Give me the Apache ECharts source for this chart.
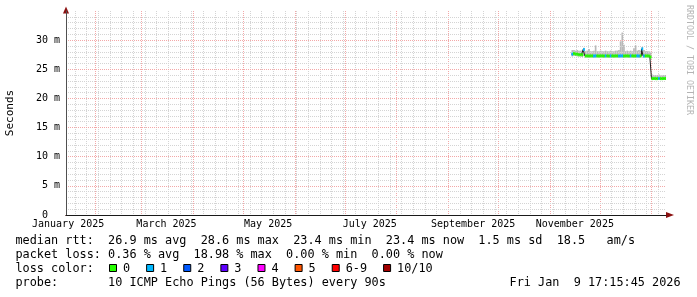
<!DOCTYPE html>
<html>
<head>
<meta charset="utf-8">
<script src="https://cdn.jsdelivr.net/npm/echarts@6/dist/echarts.min.js"></script>
<style>html,body{margin:0;padding:0;background:#fff}#c{width:697px;height:297px}</style>
</head>
<body>
<div id="c"></div>
<script>
// ---- time range of the graph (last 360 days) ----
const rangeStart = '2025-01-14T17:15:45Z';
const rangeEnd   = '2026-01-09T17:15:45Z';
// ---- measured data: one value per day, starting at dataStart ----
const dataStart = '2025-11-14T00:00:00Z';
const medianMs = [27.6,27.7,27.6,27.6,27.5,27.5,27.5,28.4,27.3,27.3,
                  27.3,27.3,27.3,27.3,27.3,27.3,27.3,27.3,27.3,27.3,
                  27.3,27.3,27.3,27.3,27.3,27.3,27.3,27.3,27.3,27.3,
                  27.3,27.3,27.3,27.3,27.3,27.3,27.3,27.3,27.3,27.3,
                  27.3,27.3,28.5,27.3,27.3,27.3,27.3,27.1,23.4,23.4,
                  23.4,23.4,23.4,23.4,23.4,23.4,23.4];
const smokeLowMs = [27.2,27.3,27.3,27.2,27.2,27.2,27.1,27.3,27.0,27.0,
                    27.0,27.0,27.0,27.0,27.0,27.0,27.0,27.0,27.0,27.0,
                    27.0,27.0,27.0,27.0,27.0,27.0,27.0,27.0,27.0,27.0,
                    27.0,27.0,27.0,27.0,27.0,27.0,27.0,27.0,27.0,27.0,
                    27.0,27.0,27.2,27.0,27.0,27.0,27.0,26.9,23.2,23.2,
                    23.2,23.2,23.2,23.2,23.2,23.2,23.2];
const smokeHighMs = [28.3,28.3,28.2,28.3,28.2,28.2,28.2,28.7,28.1,28.2,
                     28.5,28.1,28.1,28.2,29.1,28.1,28.1,28.2,28.1,28.1,
                     28.2,28.1,28.1,28.2,28.1,28.1,28.2,28.2,28.3,29.8,
                     31.3,29.2,28.1,28.2,28.1,28.2,28.1,28.6,29.1,28.2,
                     28.3,28.2,28.8,28.3,28.1,28.1,28.1,28.0,24.1,24.0,
                     24.0,24.0,24.1,24.0,24.0,24.0,24.0];
const lostPings = [1,0,0,0,0,0,0,1,0,0,
                   0,0,0,1,1,0,0,0,0,0,
                   1,0,0,1,0,0,0,0,1,1,
                   1,0,0,0,0,1,0,0,0,1,
                   1,0,1,1,0,0,0,0,0,0,
                   0,0,1,0,0,0,0];
// ---- axes ----
const yTicks = [0,5,10,15,20,25,30,35];
const monthLabels = ['January 2025','March 2025','May 2025','July 2025','September 2025','November 2025'];
const monthLabelAt = ['2025-01-16','2025-03-16','2025-05-16','2025-07-16','2025-09-16','2025-11-16'];
const monthStarts = ['2025-02-01','2025-03-01','2025-04-01','2025-05-01','2025-06-01','2025-07-01',
                     '2025-08-01','2025-09-01','2025-10-01','2025-11-01','2025-12-01','2026-01-01'];
const firstMonday = '2025-01-20';
// ---- legend ----
const lossLegend = ['0','1','2','3','4','5','6-9','10/10'];
const lossColors = ['#26ff00','#00b8ff','#0059ff','#5e00ff','#ff00ff','#ff5500','#ff0000','#a10000'];
const statLine1 = 'median rtt:  26.9 ms avg  28.6 ms max  23.4 ms min  23.4 ms now  1.5 ms sd  18.5   am/s';
const statLine2 = 'packet loss: 0.36 % avg  18.98 % max  0.00 % min  0.00 % now';
const statLine3 = 'loss color:';
const statLine4 = 'probe:       10 ICMP Echo Pings (56 Bytes) every 90s';
const stampText = 'Fri Jan  9 17:15:45 2026';
const watermark = 'RRDTOOL / TOBI OETIKER';

// ---- build ----
const DAY = 86400000;
const Y_MAX = 35;
const tMin = Date.parse(rangeStart), tMax = Date.parse(rangeEnd), t0 = Date.parse(dataStart);
const toT = s => Date.parse(s + 'T00:00:00Z');
const labelTimes = monthLabelAt.map(toT);
const monthTimes = monthStarts.map(toT);
const mondayTimes = [];
for (let t = toT(firstMonday); t < tMax; t += 7 * DAY) mondayTimes.push(t);
const lossIdx = n => n >= 10 ? 7 : (n >= 6 ? 6 : n);

const slots = medianMs.map((m, i) => {
  const a = t0 + i * DAY, b = Math.min(a + DAY, tMax);
  return [a, b, smokeLowMs[i], smokeHighMs[i], m, lostPings[i]];
});
const medLine = slots.map(s => [s[0], s[4]]);
medLine.push([slots[slots.length - 1][1], medianMs[medianMs.length - 1]]);

const MONO = '"DejaVu Sans Mono"';
const legFont = '11.83px ' + MONO;
const MAJOR = '#f3a8a8', MINOR = '#d4d4d4';

const graphics = [];
[statLine1, statLine2, statLine3, statLine4].forEach((t, i) => {
  graphics.push({type: 'text', x: 15.5, y: 241 + i * 14, silent: true,
    style: {text: t, font: legFont, fill: '#000', verticalAlign: 'middle', align: 'left'}});
});
graphics.push({type: 'text', x: 680.5, y: 283, silent: true,
  style: {text: stampText, font: legFont, fill: '#000', verticalAlign: 'middle', align: 'right'}});
let bx = 109;
lossLegend.forEach((lab, i) => {
  graphics.push({type: 'rect', silent: true, shape: {x: bx + 0.5, y: 264.5, width: 7, height: 7},
    style: {fill: lossColors[i], stroke: '#000', lineWidth: 1}});
  graphics.push({type: 'text', x: bx + 14, y: 269, silent: true,
    style: {text: lab, font: legFont, fill: '#000', verticalAlign: 'middle', align: 'left'}});
  bx = bx + 14 + lab.length * 7.12 + 16;
});
graphics.push({type: 'text', x: 689, y: 5, rotation: -Math.PI / 2, silent: true,
  style: {text: watermark, font: '8.3px ' + MONO, fill: '#b4b4b4', verticalAlign: 'middle', align: 'left'}});

// vertical grid line drawn through the axis scales
const vGrid = (color) => (params, api) => {
  const top = api.coord([api.value(0), Y_MAX]);
  const bot = api.coord([api.value(0), 0]);
  const x = Math.round(top[0]) + 0.5;
  return {type: 'line', shape: {x1: x, y1: Math.round(top[1]), x2: x, y2: Math.round(bot[1])},
    style: {stroke: color, lineWidth: 1, lineDash: [1, 1]}};
};

const option = {
  animation: false,
  backgroundColor: '#ffffff',
  grid: {left: 66, right: 31, top: 11, bottom: 82, containLabel: false, outerBoundsMode: 'none'},
  xAxis: [
    {type: 'value', min: tMin, max: tMax, position: 'bottom', z: 1,
      axisLine: {show: true, symbol: ['none', 'triangle'], symbolSize: [6, 8], symbolOffset: [0, 4],
        lineStyle: {color: '#8b1010', width: 1}},
      axisTick: {show: false}, axisLabel: {show: false}, splitLine: {show: false}},
    {type: 'value', min: tMin, max: tMax, position: 'bottom', z: 3,
      axisLine: {show: true, lineStyle: {color: '#1a1a1a', width: 1}},
      axisTick: {show: false, customValues: labelTimes}, splitLine: {show: false},
      axisLabel: {show: true, customValues: labelTimes, margin: 4, color: '#000',
        fontFamily: 'DejaVu Sans Mono', fontSize: 10, showMinLabel: true, showMaxLabel: true,
        formatter: v => { const k = labelTimes.indexOf(v); return k >= 0 ? monthLabels[k] : ''; }}}
  ],
  yAxis: [
    {type: 'value', min: 0, max: Y_MAX, interval: 5, z: 3,
      axisLine: {show: true, lineStyle: {color: '#505050', width: 1}},
      axisTick: {show: false},
      axisLabel: {margin: 6, color: '#000', fontFamily: 'DejaVu Sans Mono', fontSize: 10,
        showMaxLabel: false,
        formatter: v => yTicks.indexOf(v) >= 0 ? (v === 0 ? '0\u00a0\u00a0' : v + ' m') : ''},
      splitLine: {show: true, showMinLine: false, showMaxLine: false,
        lineStyle: {color: MAJOR, width: 1, type: [1, 1]}},
      minorTick: {show: false, splitNumber: 5},
      minorSplitLine: {show: true, lineStyle: {color: MINOR, width: 1, type: [1, 1]}},
      name: 'Seconds', nameLocation: 'middle', nameRotate: 90, nameGap: 50,
      nameTextStyle: {color: '#000', fontFamily: 'DejaVu Sans Mono', fontSize: 11}},
    {type: 'value', min: 0, max: Y_MAX, position: 'left', z: 1,
      axisLine: {show: true, symbol: ['none', 'triangle'], symbolSize: [6, 7], symbolOffset: [0, 1],
        lineStyle: {color: '#8b1010', width: 1}},
      axisTick: {show: false}, axisLabel: {show: false}, splitLine: {show: false}}
  ],
  series: [
    {type: 'custom', name: 'week grid', xAxisIndex: 1, yAxisIndex: 0, silent: true, z: 0,
      encode: {x: 0}, data: mondayTimes.map(t => [t]), renderItem: vGrid(MINOR)},
    {type: 'custom', name: 'month grid', xAxisIndex: 1, yAxisIndex: 0, silent: true, z: 1,
      encode: {x: 0}, data: monthTimes.map(t => [t]), renderItem: vGrid(MAJOR)},
    {type: 'custom', name: 'smoke', xAxisIndex: 1, yAxisIndex: 0, silent: true, clip: true,
      encode: {x: [0, 1], y: [2, 3]}, data: slots, z: 2,
      renderItem: (params, api) => {
        const p0 = api.coord([api.value(0), api.value(3)]);
        const p1 = api.coord([api.value(1), api.value(2)]);
        return {type: 'rect', shape: {x: p0[0], y: p0[1], width: p1[0] - p0[0], height: p1[1] - p0[1]},
          style: {fill: '#b8b8b8'}};
      }},
    {type: 'line', name: 'median', xAxisIndex: 1, yAxisIndex: 0, step: 'end', showSymbol: false,
      symbol: 'none', silent: true, z: 3, data: medLine,
      lineStyle: {color: '#202020', width: 1}},
    {type: 'custom', name: 'loss', xAxisIndex: 1, yAxisIndex: 0, silent: true, clip: true,
      encode: {x: [0, 1], y: 4}, data: slots, z: 4,
      renderItem: (params, api) => {
        const p0 = api.coord([api.value(0), api.value(4)]);
        const p1 = api.coord([api.value(1), api.value(4)]);
        return {type: 'rect', shape: {x: p0[0], y: p0[1] - 1.5, width: p1[0] - p0[0], height: 3},
          style: {fill: lossColors[lossIdx(api.value(5))]}};
      }}
  ],
  graphic: graphics
};
const chart = echarts.init(document.getElementById('c'), null, {renderer: 'canvas'});
chart.setOption(option);
</script>
</body>
</html>
